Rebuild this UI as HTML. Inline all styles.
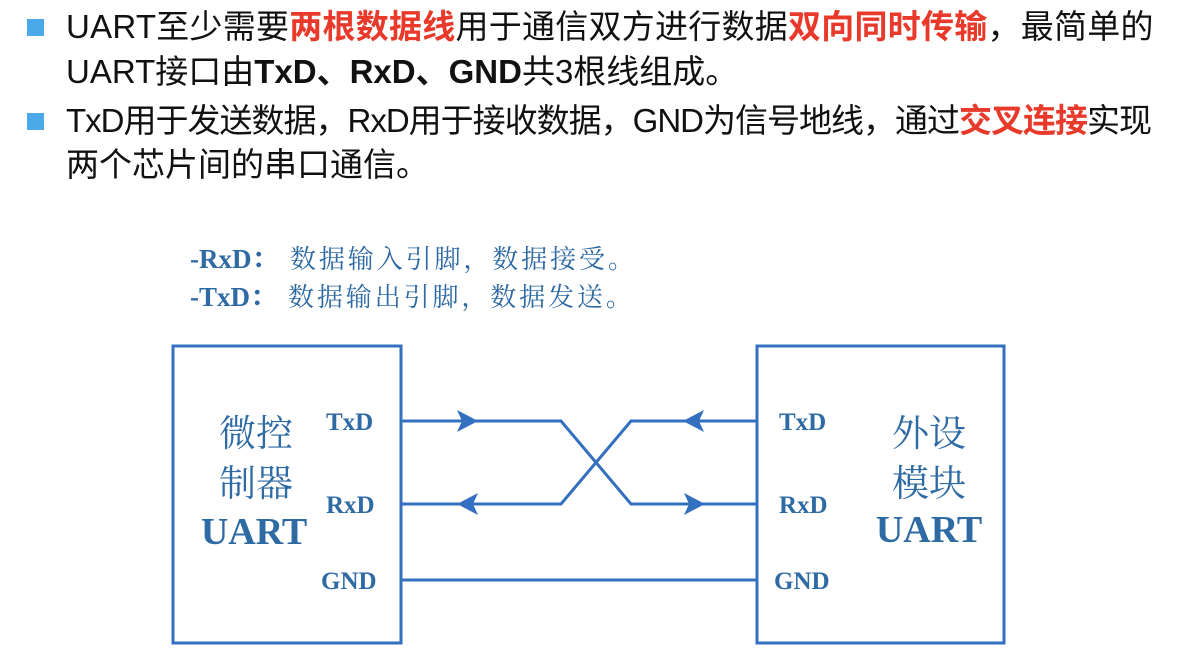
<!DOCTYPE html>
<html><head><meta charset="utf-8"><style>
body{margin:0;width:1198px;height:664px;background:#fff;overflow:hidden;position:relative;font-family:"Liberation Sans","Noto Sans CJK SC",sans-serif;}
.l{position:absolute;left:66px;font-size:33px;color:#111;white-space:nowrap;line-height:1}
.r{color:#e8392b;font-weight:bold}
.b{font-weight:bold}
.sq{position:absolute;left:27px;width:17px;height:17px;background:#4ba9ea}
</style></head><body>
<div class="sq" style="top:19px"></div>
<div class="sq" style="top:113px"></div>
<div class="l" style="top:10px;letter-spacing:0.25px">UART至少需要<span class="r">两根数据线</span>用于通信双方进行数据<span class="r">双向同时传输</span>，最简单的</div>
<div class="l" style="top:55px">UART接口由<span class="b">TxD、RxD、GND</span>共3根线组成。</div>
<div class="l" style="top:104px;letter-spacing:-1px">TxD用于发送数据，RxD用于接收数据，GND为信号地线，通过<span class="r">交叉连接</span>实现</div>
<div class="l" style="top:148px">两个芯片间的串口通信。</div>
<svg width="1198" height="664" style="position:absolute;left:0;top:0" font-family="Liberation Serif,Noto Serif CJK SC,serif">
<g fill="#2e6aa3" font-size="27" font-weight="bold">
<text x="190" y="268">-RxD：<tspan x="290" font-weight="normal" font-size="26" letter-spacing="2.9">数据输入引脚，数据接受。</tspan></text>
<text x="190" y="306">-TxD：<tspan x="288" font-weight="normal" font-size="26" letter-spacing="2.9">数据输出引脚，数据发送。</tspan></text>
</g>
<g stroke="#3370c0" stroke-width="3" fill="none">
<rect x="173" y="346" width="228" height="297"/>
<rect x="757" y="346" width="247" height="297"/>
<polyline points="401,421 561,421 631,504 757,504"/>
<polyline points="401,504 561,504 631,421 757,421"/>
<line x1="401" y1="580" x2="757" y2="580"/>
</g>
<g fill="#3370c0">
<polygon points="478,421 457,410 462,421 457,432"/>
<polygon points="457,504 478,493 473,504 478,515"/>
<polygon points="683,421 704,410 699,421 704,432"/>
<polygon points="705,504 684,493 689,504 684,515"/>
</g>
<g fill="#2e6aa3" font-weight="bold" font-size="25">
<text x="326" y="430">TxD</text><text x="326" y="513">RxD</text><text x="321" y="589">GND</text>
<text x="779" y="430">TxD</text><text x="779" y="513">RxD</text><text x="774" y="589">GND</text>
</g>
<g fill="#2e6aa3" font-size="37" text-anchor="middle">
<text x="256" y="446">微控</text><text x="256" y="496">制器</text>
<text x="929" y="446">外设</text><text x="929" y="496">模块</text>
</g>
<g fill="#2e6aa3" font-size="38" font-weight="bold" text-anchor="middle">
<text x="254" y="544">UART</text><text x="929" y="542">UART</text>
</g>
</svg>
</body></html>
